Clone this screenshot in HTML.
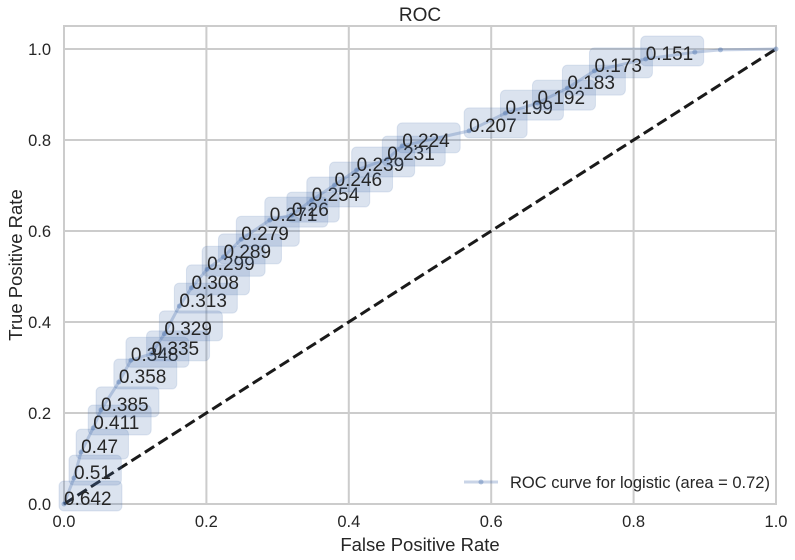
<!DOCTYPE html>
<html><head><meta charset="utf-8"><style>
html,body{margin:0;padding:0;background:#fff;}
svg{display:block;font-family:"Liberation Sans",Arial,sans-serif;}
</style></head><body>
<svg id="chart" width="795" height="560" xmlns="http://www.w3.org/2000/svg">
<rect width="795" height="560" fill="#fff"/>
<g id="grid"></g>
<g id="axes"></g>
<g id="series"></g>
<g id="labels"></g>
<text x="420" y="21" font-size="19" text-anchor="middle" fill="#262626">ROC</text>
<text x="420" y="551" font-size="18.5" text-anchor="middle" fill="#262626">False Positive Rate</text>
<text transform="translate(22,265) rotate(-90)" font-size="18.5" text-anchor="middle" fill="#262626">True Positive Rate</text>
<g>
<line x1="464" y1="482" x2="498" y2="482" stroke="#4c72b0" stroke-opacity="0.3" stroke-width="3"/>
<circle cx="481" cy="482" r="2.5" fill="#4c72b0" fill-opacity="0.4"/>
<text x="510" y="488" font-size="16.5" fill="#262626">ROC curve for logistic (area = 0.72)</text>
</g>
</svg>
<script>
const fpr=[0,0.014,0.024,0.041,0.052,0.077,0.094,0.123,0.141,0.162,0.179,0.201,0.224,0.249,0.289,0.32,0.348,0.38,0.411,0.454,0.475,0.569,0.62,0.665,0.707,0.745,0.817,0.886,0.922,1.0];
const tpr=[0,0.057,0.114,0.167,0.207,0.268,0.316,0.33,0.374,0.435,0.475,0.516,0.543,0.582,0.624,0.635,0.668,0.701,0.734,0.758,0.787,0.82,0.859,0.881,0.914,0.952,0.978,0.993,0.998,1.0];
const thresholds=["0.642","0.51","0.47","0.411","0.385","0.358","0.348","0.335","0.329","0.313","0.308","0.299","0.289","0.279","0.271","0.26","0.254","0.246","0.239","0.231","0.224","0.207","0.199","0.192","0.183","0.173","0.151","","",""];
const xTicks=[0,0.2,0.4,0.6,0.8,1.0];
const yTicks=[0,0.2,0.4,0.6,0.8,1.0];
const NS="http://www.w3.org/2000/svg";
const X0=64,X1=776,Y0=504,Y1=49;
const sx=v=>X0+(X1-X0)*v;
const sy=v=>Y0-(Y0-Y1)*v;
function mk(t,a,p){const e=document.createElementNS(NS,t);for(const k in a)e.setAttribute(k,a[k]);p.appendChild(e);return e;}
const grid=document.getElementById('grid'),axes=document.getElementById('axes');
xTicks.forEach(v=>{
 const l=mk('line',{x1:sx(v),x2:sx(v),y1:26,y2:Y0,stroke:'#cccccc','stroke-width':2},grid);
 
 
 const t=mk('text',{x:sx(v),y:Y0+23,'font-size':16.5,'text-anchor':'middle',fill:'#262626'},axes);
 t.textContent=v.toFixed(1);
 
 
});
yTicks.forEach(v=>{
 const l=mk('line',{x1:X0,x2:X1,y1:sy(v),y2:sy(v),stroke:'#cccccc','stroke-width':2},grid);
 
 
 const t=mk('text',{x:X0-13,y:sy(v)+6,'font-size':16.5,'text-anchor':'end',fill:'#262626'},axes);
 t.textContent=v.toFixed(1);
 
 
});
const fr=mk('rect',{x:X0,y:26,width:X1-X0,height:Y0-26,fill:'none',stroke:'#cccccc','stroke-width':2},axes);


const ser=document.getElementById('series');
const dl=mk('line',{x1:sx(0),y1:sy(0),x2:sx(1),y2:sy(1),stroke:'#1a1a1a','stroke-width':3,'stroke-dasharray':'11,5'},ser);


const pl=mk('polyline',{points:fpr.map((f,i)=>sx(f)+','+sy(tpr[i])).join(' '),fill:'none',stroke:'#4c72b0','stroke-opacity':0.3,'stroke-width':3},ser);


fpr.forEach((f,i)=>{
 const c=mk('circle',{cx:sx(f),cy:sy(tpr[i]),r:2.5,fill:'#4c72b0','fill-opacity':0.4},ser);
 
 
});
const lab=document.getElementById('labels');
thresholds.forEach((s,i)=>{
 if(!s)return;
 const x=sx(fpr[i]),y=sy(tpr[i]);
 const w=s.length*10.6;
 const r=mk('rect',{x:x-5,y:y-23,width:w+10,height:30,rx:5,fill:'#4c72b0','fill-opacity':0.2,stroke:'#4c72b0','stroke-opacity':0.15},lab);
 
 
 const t=mk('text',{x:x,y:y+1,'font-size':19,fill:'#262626'},lab);
 t.textContent=s;
 
 
});
</script>
</body></html>
